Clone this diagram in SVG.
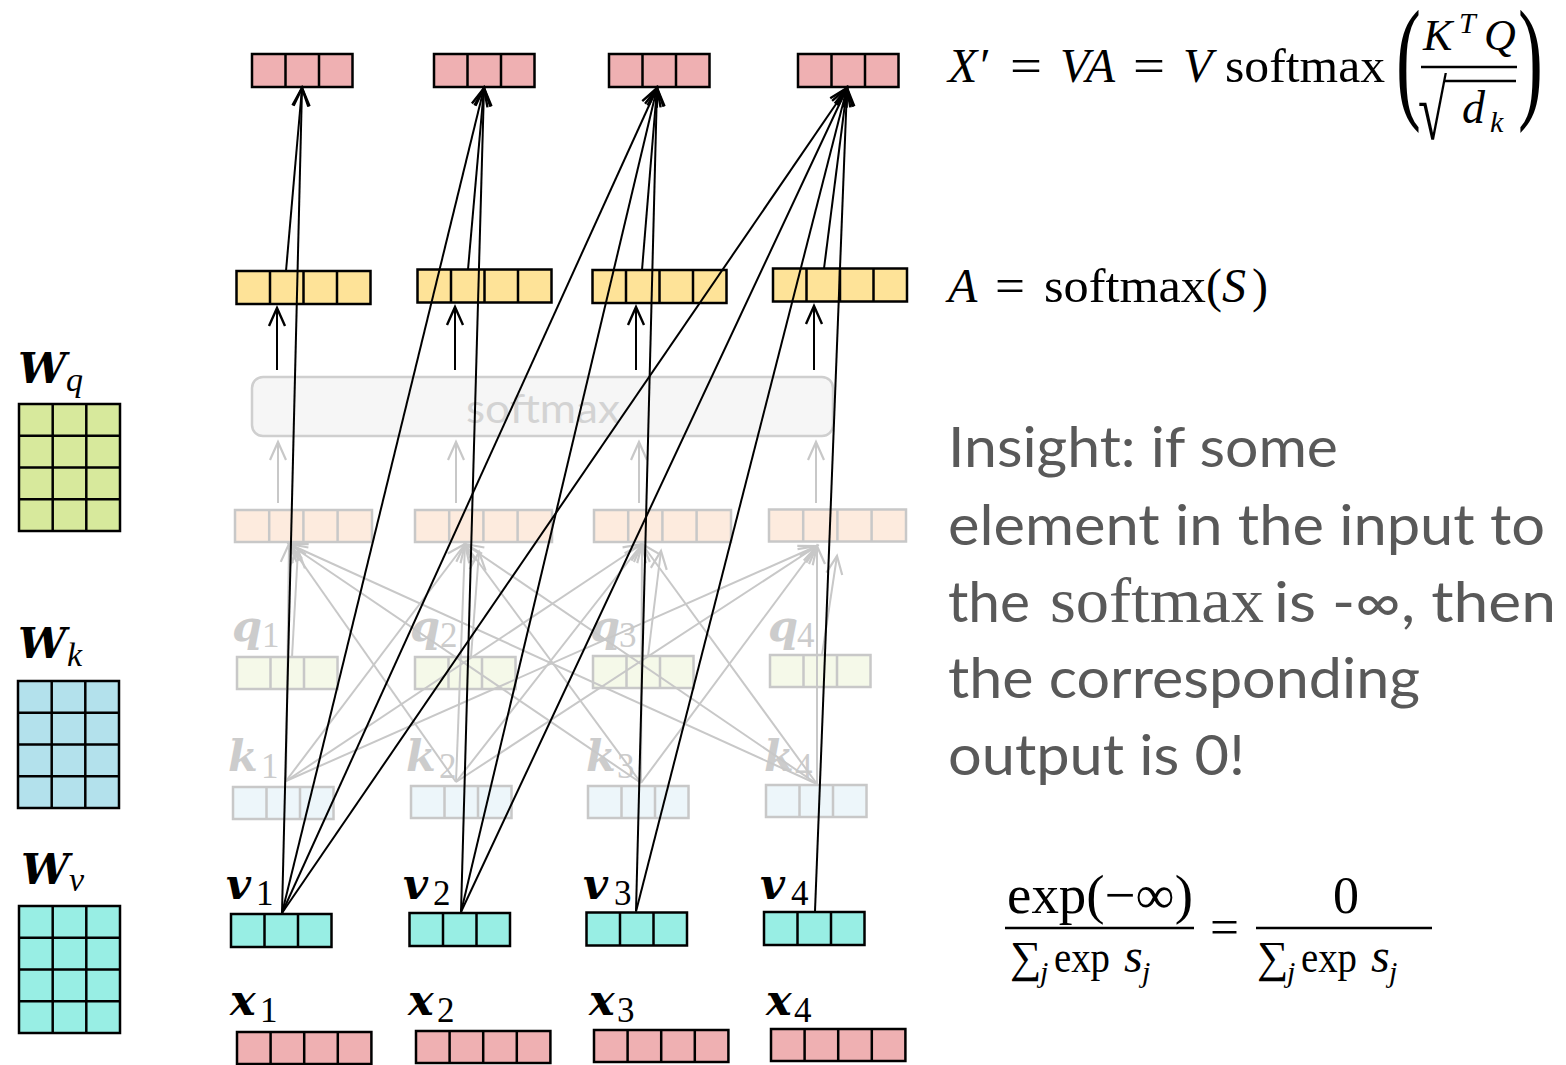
<svg xmlns="http://www.w3.org/2000/svg" width="1566" height="1065" viewBox="0 0 1566 1065">
<style>
.b{stroke:#000;stroke-width:2.5}
.f{stroke:#c8c8c8;stroke-width:2.5}
.pink{fill:#efb0b2}.yel{fill:#fee398}.wq{fill:#d7e99c}.wk{fill:#b3e1ec}.tq{fill:#98eee4}
.fs{fill:#fdebde}.fq{fill:#f5f9e9}.fk{fill:#edf6fa}
.cn line{stroke:#000;stroke-width:2;marker-end:url(#ah)}
.fl line{stroke:#c8c8c8;stroke-width:2;marker-end:url(#ahg)}
.lab{font-family:"DejaVu Serif",serif;font-weight:bold;font-style:italic;font-size:43px}
.sub{font-family:"Liberation Serif","DejaVu Serif",serif;font-size:35px}
.subi{font-family:"Liberation Serif","DejaVu Serif",serif;font-size:34px;font-style:italic}
.fade{fill:#cccccc}
.m{font-family:"Liberation Serif","DejaVu Serif",serif;font-size:48px;fill:#000}
.mi{font-style:italic}
.ins{font-family:Lato,"Open Sans",sans-serif;font-size:56px;fill:#595959}
</style>
<defs>
<marker id="ah" markerUnits="userSpaceOnUse" markerWidth="24" markerHeight="24" viewBox="-20 -12 24 24" refX="0" refY="0" orient="auto">
<path d="M-18,-8 L0,0 L-18,8" fill="none" stroke="#000" stroke-width="2.4"/>
</marker>
<marker id="ahg" markerUnits="userSpaceOnUse" markerWidth="24" markerHeight="24" viewBox="-20 -12 24 24" refX="0" refY="0" orient="auto">
<path d="M-18,-8 L0,0 L-18,8" fill="none" stroke="#c8c8c8" stroke-width="2.2"/>
</marker>
</defs>
<rect width="1566" height="1065" fill="#fff"/>

<!-- weight matrices -->
<g id="Wq">
<text class="lab" x="18" y="383">W</text><text class="subi" x="66" y="391">q</text>
<rect class="wq b" x="19" y="404" width="101" height="127"/>
<path class="b" d="M52.7,404V531M86.3,404V531M19,435.75H120M19,467.5H120M19,499.25H120"/>
</g>
<g id="Wk">
<text class="lab" x="18" y="658">W</text><text class="subi" x="67" y="666">k</text>
<rect class="wk b" x="18" y="681" width="101" height="127"/>
<path class="b" d="M51.7,681V808M85.3,681V808M18,712.75H119M18,744.5H119M18,776.25H119"/>
</g>
<g id="Wv">
<text class="lab" x="21" y="884">W</text><text class="subi" x="69" y="891">v</text>
<rect class="tq b" x="19" y="906" width="101" height="127"/>
<path class="b" d="M52.7,906V1033M86.3,906V1033M19,937.75H120M19,969.5H120M19,1001.25H120"/>
</g>

<!-- faded score vectors -->
<g id="s1"><rect class="fs f" x="235" y="510" width="137" height="32"/><path class="f" d="M269.2,510v32M303.4,510v32M337.6,510v32"/></g>
<g id="s2"><rect class="fs f" x="415" y="510" width="137" height="32"/><path class="f" d="M449.2,510v32M483.4,510v32M517.6,510v32"/></g>
<g id="s3"><rect class="fs f" x="594" y="510" width="137" height="32"/><path class="f" d="M628.2,510v32M662.4,510v32M696.6,510v32"/></g>
<g id="s4"><rect class="fs f" x="769" y="509.5" width="137" height="32"/><path class="f" d="M803.2,509.5v32M837.4,509.5v32M871.6,509.5v32"/></g>

<!-- faded queries -->
<g id="q1"><text class="lab fade" x="232" y="641">q</text><text class="sub fade" x="262" y="647">1</text><rect class="fq f" x="237" y="657" width="100.5" height="32"/><path class="f" d="M270.5,657v32M304,657v32"/></g>
<g id="q2"><text class="lab fade" x="410" y="641">q</text><text class="sub fade" x="440" y="647">2</text><rect class="fq f" x="415" y="657" width="100.5" height="32"/><path class="f" d="M448.5,657v32M482,657v32"/></g>
<g id="q3"><text class="lab fade" x="590" y="641">q</text><text class="sub fade" x="619" y="647">3</text><rect class="fq f" x="593" y="656" width="100.5" height="32"/><path class="f" d="M626.5,656v32M660,656v32"/></g>
<g id="q4"><text class="lab fade" x="768" y="641">q</text><text class="sub fade" x="797" y="647">4</text><rect class="fq f" x="770" y="655" width="100.5" height="32"/><path class="f" d="M803.5,655v32M837,655v32"/></g>

<!-- faded keys -->
<g id="k1"><text class="lab fade" x="228" y="771">k</text><text class="sub fade" x="261" y="778">1</text><rect class="fk f" x="233" y="787" width="100.5" height="32"/><path class="f" d="M266.5,787v32M300,787v32"/></g>
<g id="k2"><text class="lab fade" x="406" y="771">k</text><text class="sub fade" x="439" y="778">2</text><rect class="fk f" x="411" y="786" width="100.5" height="32"/><path class="f" d="M444.5,786v32M478,786v32"/></g>
<g id="k3"><text class="lab fade" x="586" y="771">k</text><text class="sub fade" x="617" y="778">3</text><rect class="fk f" x="588" y="786" width="100.5" height="32"/><path class="f" d="M621.5,786v32M655,786v32"/></g>
<g id="k4"><text class="lab fade" x="764" y="771">k</text><text class="sub fade" x="795" y="778">4</text><rect class="fk f" x="766" y="785" width="100.5" height="32"/><path class="f" d="M799.5,785v32M833,785v32"/></g>

<!-- faded connectors -->
<g id="faded-connectors" class="fl">
<line x1="286" y1="781" x2="289" y2="544"/><line x1="456" y1="782" x2="289" y2="544"/><line x1="641" y1="783" x2="289" y2="544"/><line x1="817" y1="784" x2="289" y2="544"/>
<line x1="286" y1="781" x2="465" y2="544"/><line x1="456" y1="782" x2="465" y2="544"/><line x1="641" y1="783" x2="465" y2="544"/><line x1="817" y1="784" x2="465" y2="544"/>
<line x1="286" y1="781" x2="642" y2="544"/><line x1="456" y1="782" x2="642" y2="544"/><line x1="641" y1="783" x2="642" y2="544"/><line x1="817" y1="784" x2="642" y2="544"/>
<line x1="286" y1="781" x2="817" y2="546"/><line x1="456" y1="782" x2="817" y2="546"/><line x1="641" y1="783" x2="817" y2="546"/><line x1="817" y1="784" x2="817" y2="546"/>
<line x1="292" y1="657" x2="298" y2="550"/><line x1="471" y1="657" x2="479" y2="552"/><line x1="648" y1="656" x2="661" y2="551"/><line x1="822" y1="655" x2="837" y2="556"/>
<line x1="278" y1="503" x2="278" y2="442"/><line x1="456" y1="503" x2="456" y2="442"/><line x1="639" y1="503" x2="639" y2="442"/><line x1="816" y1="503" x2="816" y2="442"/>
</g>

<!-- softmax box -->
<g id="softmax">
<rect x="252" y="377" width="581" height="59" rx="11" fill="#f6f6f6" stroke="#cfcfcf" stroke-width="2.5"/>
<text x="466" y="423" font-family="Lato,'Open Sans',sans-serif" font-size="40" fill="#d3d3d3" textLength="154" lengthAdjust="spacingAndGlyphs">softmax</text>
</g>

<!-- attention weights A -->
<g id="a1"><rect class="yel b" x="236.5" y="271" width="134" height="33"/><path class="b" d="M270,271v33M303.5,271v33M337,271v33"/></g>
<g id="a2"><rect class="yel b" x="417.5" y="269.5" width="134" height="33"/><path class="b" d="M451,269.5v33M484.5,269.5v33M518,269.5v33"/></g>
<g id="a3"><rect class="yel b" x="592.5" y="270" width="134" height="33"/><path class="b" d="M626,270v33M659.5,270v33M693,270v33"/></g>
<g id="a4"><rect class="yel b" x="773" y="268.5" width="134" height="33"/><path class="b" d="M806.5,268.5v33M840,268.5v33M873.5,268.5v33"/></g>

<!-- outputs -->
<g id="o1"><rect class="pink b" x="252" y="54" width="100.5" height="33"/><path class="b" d="M285.5,54v33M319,54v33"/></g>
<g id="o2"><rect class="pink b" x="434" y="54" width="100.5" height="33"/><path class="b" d="M467.5,54v33M501,54v33"/></g>
<g id="o3"><rect class="pink b" x="609" y="54" width="100.5" height="33"/><path class="b" d="M642.5,54v33M676,54v33"/></g>
<g id="o4"><rect class="pink b" x="798" y="54" width="100.5" height="33"/><path class="b" d="M831.5,54v33M865,54v33"/></g>

<!-- values -->
<g id="v1"><text class="lab" x="226" y="899">v</text><text class="sub" x="256" y="905">1</text><rect class="tq b" x="231" y="914" width="100.5" height="33"/><path class="b" d="M264.5,914v33M298,914v33"/></g>
<g id="v2"><text class="lab" x="403" y="899">v</text><text class="sub" x="433" y="905">2</text><rect class="tq b" x="409.5" y="913" width="100.5" height="33"/><path class="b" d="M443,913v33M476.5,913v33"/></g>
<g id="v3"><text class="lab" x="583" y="899">v</text><text class="sub" x="614" y="905">3</text><rect class="tq b" x="586.5" y="912.5" width="100.5" height="33"/><path class="b" d="M620,912.5v33M653.5,912.5v33"/></g>
<g id="v4"><text class="lab" x="760" y="899">v</text><text class="sub" x="791" y="905">4</text><rect class="tq b" x="764" y="912" width="100.5" height="33"/><path class="b" d="M797.5,912v33M831,912v33"/></g>

<!-- inputs -->
<g id="x1"><text class="lab" x="230" y="1015">x</text><text class="sub" x="260" y="1022">1</text><rect class="pink b" x="237" y="1032" width="134.4" height="32"/><path class="b" d="M270.6,1032v32M304.2,1032v32M337.8,1032v32"/></g>
<g id="x2"><text class="lab" x="408" y="1015">x</text><text class="sub" x="437" y="1022">2</text><rect class="pink b" x="416" y="1031" width="134.4" height="32"/><path class="b" d="M449.6,1031v32M483.2,1031v32M516.8,1031v32"/></g>
<g id="x3"><text class="lab" x="589" y="1015">x</text><text class="sub" x="617" y="1022">3</text><rect class="pink b" x="594" y="1030" width="134.4" height="32"/><path class="b" d="M627.6,1030v32M661.2,1030v32M694.8,1030v32"/></g>
<g id="x4"><text class="lab" x="766" y="1015">x</text><text class="sub" x="794" y="1022">4</text><rect class="pink b" x="771" y="1029" width="134.4" height="32"/><path class="b" d="M804.6,1029v32M838.2,1029v32M871.8,1029v32"/></g>

<!-- connectors -->
<g id="connectors" class="cn">
<line x1="277" y1="370" x2="277" y2="308"/><line x1="455" y1="370" x2="455" y2="307"/><line x1="636" y1="370" x2="636" y2="307"/><line x1="814" y1="370" x2="814" y2="306"/>
<line x1="286" y1="271" x2="302" y2="88"/><line x1="468" y1="269.5" x2="484" y2="88"/><line x1="642" y1="270" x2="657" y2="88"/><line x1="824" y1="268.5" x2="847" y2="88"/>
<line x1="282" y1="913" x2="302" y2="88"/><line x1="282" y1="913" x2="484" y2="88"/><line x1="282" y1="913" x2="657" y2="88"/><line x1="282" y1="913" x2="847" y2="88"/>
<line x1="461" y1="912" x2="484" y2="88"/><line x1="461" y1="912" x2="657" y2="88"/><line x1="461" y1="912" x2="847" y2="88"/>
<line x1="636" y1="911.5" x2="657" y2="88"/><line x1="636" y1="911.5" x2="847" y2="88"/>
<line x1="815" y1="911" x2="847" y2="88"/>
</g>

<!-- formulas -->
<g id="formula-out">
<text class="m mi" x="948" y="82">X′</text>
<text class="m" x="1010" y="82" textLength="32" lengthAdjust="spacingAndGlyphs">=</text>
<text class="m mi" x="1060" y="82">VA</text>
<text class="m" x="1133" y="82" textLength="32" lengthAdjust="spacingAndGlyphs">=</text>
<text class="m mi" x="1183" y="82">V</text>
<text class="m" x="1225" y="82" textLength="160" lengthAdjust="spacingAndGlyphs">softmax</text>
<text class="m" transform="translate(1396,104) scale(0.55,1)" style="font-size:136px">(</text>
<text class="m mi" x="1423" y="50" style="font-size:44px">K</text>
<text class="m mi" x="1459" y="33" style="font-size:30px">T</text>
<text class="m mi" x="1484" y="50" style="font-size:44px">Q</text>
<line x1="1421" y1="67" x2="1517" y2="67" stroke="#000" stroke-width="2.5"/>
<text class="m" transform="translate(1418,139) scale(0.6,0.95)" style="font-size:88px">√</text>
<line x1="1444" y1="81" x2="1516" y2="81" stroke="#000" stroke-width="2.5"/>
<text class="m mi" x="1462" y="123" style="font-size:46px">d</text>
<text class="m mi" x="1490" y="132" style="font-size:30px">k</text>
<text class="m" transform="translate(1518,104) scale(0.55,1)" style="font-size:136px">)</text>
</g>
<g id="formula-A">
<text class="m mi" x="948" y="302">A</text>
<text class="m" x="995" y="302" textLength="30" lengthAdjust="spacingAndGlyphs">=</text>
<text class="m" x="1044" y="302" textLength="162" lengthAdjust="spacingAndGlyphs">softmax</text>
<text class="m" x="1206" y="302">(</text>
<text class="m mi" x="1222" y="302">S</text>
<text class="m" x="1252" y="302">)</text>
</g>
<g id="insight">
<text class="ins" x="948" y="467" textLength="390" lengthAdjust="spacingAndGlyphs">Insight: if some</text>
<text class="ins" x="948" y="545" textLength="597" lengthAdjust="spacingAndGlyphs">element in the input to</text>
<text class="ins" x="948" y="622" textLength="82" lengthAdjust="spacingAndGlyphs">the</text>
<text x="1050" y="622" font-family="'Liberation Serif',serif" font-size="63" fill="#595959" textLength="214" lengthAdjust="spacingAndGlyphs">softmax</text>
<text class="ins" x="1274" y="622" textLength="282" lengthAdjust="spacingAndGlyphs">is -∞, then</text>
<text class="ins" x="948" y="698" textLength="472" lengthAdjust="spacingAndGlyphs">the corresponding</text>
<text class="ins" x="948" y="775" textLength="297" lengthAdjust="spacingAndGlyphs">output is 0!</text>
</g>
<g id="formula-zero">
<text class="m" x="1007" y="913" style="font-size:54px" textLength="186" lengthAdjust="spacingAndGlyphs">exp(−∞)</text>
<line x1="1005" y1="928" x2="1194" y2="928" stroke="#000" stroke-width="2.5"/>
<text class="m" x="1010" y="972" style="font-size:44px">∑</text>
<text class="m mi" x="1040" y="982" style="font-size:30px">j</text>
<text class="m" x="1054" y="972" style="font-size:44px" textLength="56" lengthAdjust="spacingAndGlyphs">exp</text>
<text class="m mi" x="1124" y="972" style="font-size:48px">s</text>
<text class="m mi" x="1142" y="982" style="font-size:30px">j</text>
<text class="m" x="1210" y="944" style="font-size:50px" textLength="29" lengthAdjust="spacingAndGlyphs">=</text>
<text class="m" x="1346" y="913" text-anchor="middle" style="font-size:52px">0</text>
<line x1="1256" y1="928" x2="1432" y2="928" stroke="#000" stroke-width="2.5"/>
<text class="m" x="1257" y="972" style="font-size:44px">∑</text>
<text class="m mi" x="1287" y="982" style="font-size:30px">j</text>
<text class="m" x="1301" y="972" style="font-size:44px" textLength="56" lengthAdjust="spacingAndGlyphs">exp</text>
<text class="m mi" x="1371" y="972" style="font-size:48px">s</text>
<text class="m mi" x="1389" y="982" style="font-size:30px">j</text>
</g>
</svg>
